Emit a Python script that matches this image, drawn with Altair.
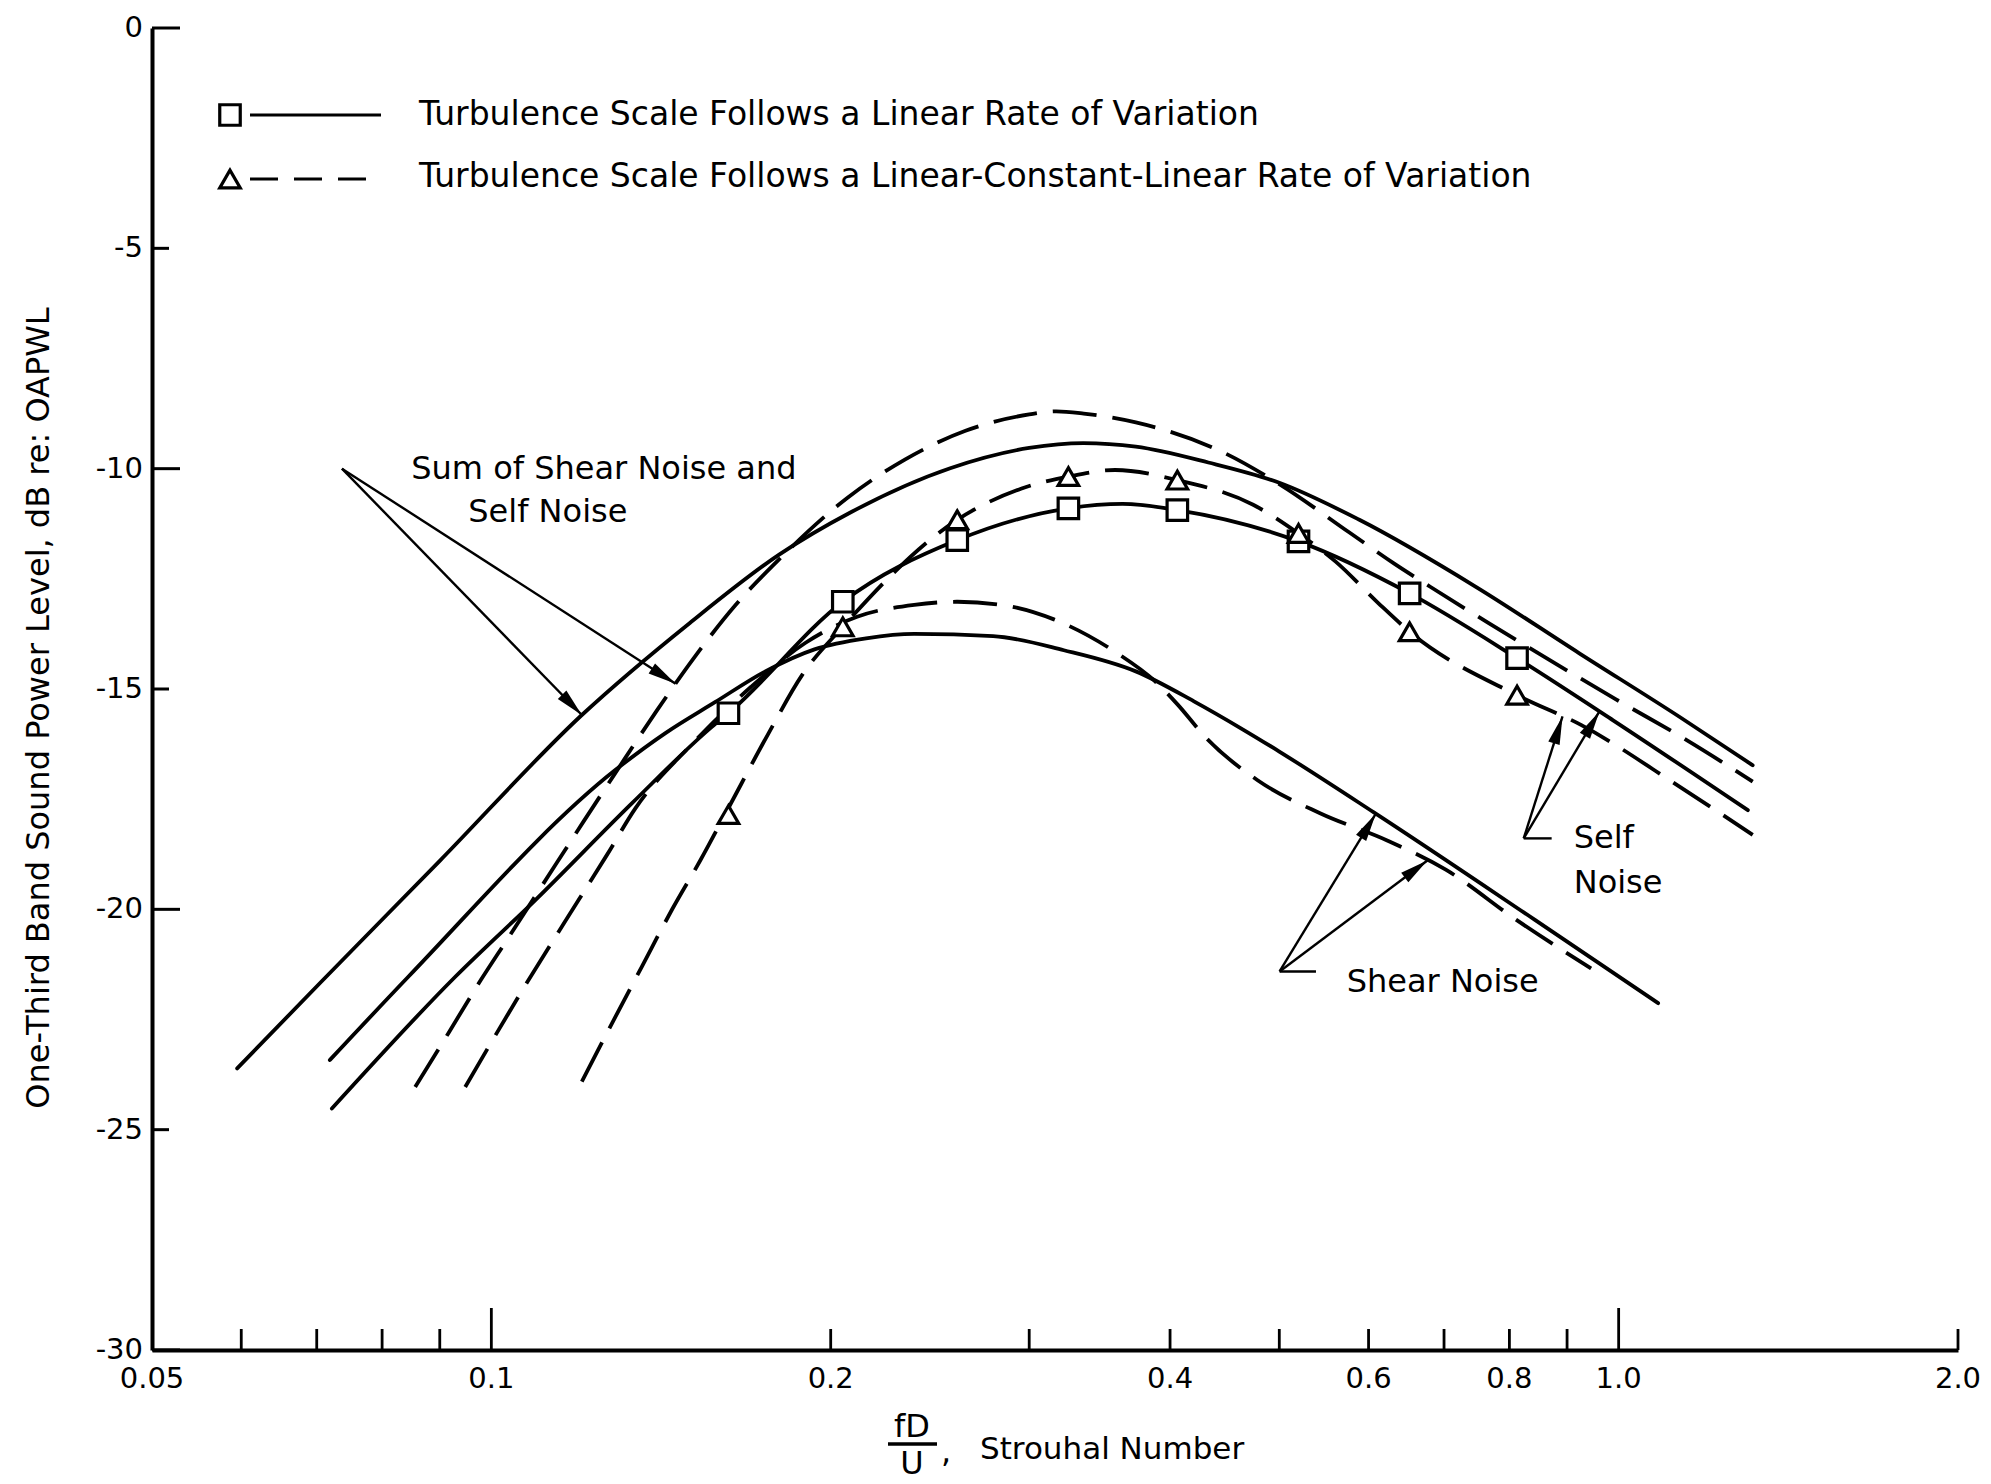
import math

import altair as alt
import pandas as pd

# ---------------------------------------------------------------------------
# Spectra: Strouhal number fD/U versus one-third band sound power level,
# dB re OAPWL.  "LIN" = turbulence scale with a linear rate of variation,
# "LCL" = linear-constant-linear rate of variation.
# ---------------------------------------------------------------------------

# Sum of shear noise and self noise
SUM_LIN_F = [0.0595, 0.0703, 0.0900, 0.1203, 0.150, 0.180, 0.208, 0.2553, 0.300,
             0.335, 0.373, 0.4325, 0.500, 0.5888, 0.747, 0.9228, 1.132, 1.315]
SUM_LIN_DB = [-23.61, -21.70, -18.90, -15.59, -13.50, -11.95, -11.00, -9.99, -9.53,
              -9.42, -9.50, -9.86, -10.32, -11.16, -12.68, -14.19, -15.63, -16.73]

SUM_LCL_F = [0.0856, 0.0916, 0.0979, 0.1032, 0.1140, 0.1207, 0.1288, 0.1403, 0.1511,
             0.1646, 0.1798, 0.207, 0.2325, 0.2634, 0.300, 0.317, 0.3353, 0.373, 0.445,
             0.500, 0.577, 0.6318, 0.6805, 0.7675, 0.9954, 1.151, 1.315]
SUM_LCL_DB = [-24.03, -22.81, -21.60, -20.70, -18.99, -18.01, -16.91, -15.48, -14.31,
              -13.10, -12.07, -10.66, -9.80, -9.14, -8.77, -8.70, -8.75, -8.95, -9.62,
              -10.35, -11.45, -12.15, -12.68, -13.51, -15.24, -16.17, -17.10]

# Self noise
SELF_LIN_F = [0.0722, 0.0929, 0.1094, 0.1333, 0.1569, 0.1623, 0.205, 0.259, 0.325,
              0.363, 0.406, 0.52, 0.6525, 0.8126, 0.9887, 1.302]
SELF_LIN_DB = [-24.52, -21.53, -19.79, -17.59, -15.86, -15.55, -13.02, -11.62, -10.90,
               -10.80, -10.94, -11.65, -12.83, -14.30, -15.71, -17.75]

SELF_LCL_F = [0.1203, 0.1275, 0.136, 0.1446, 0.1533, 0.1623, 0.1762, 0.1887, 0.205,
              0.259, 0.2954, 0.325, 0.3575, 0.406, 0.474, 0.52, 0.561, 0.612, 0.6525,
              0.8126, 0.9268, 1.127, 1.315]
SELF_LCL_DB = [-23.91, -22.66, -21.30, -20.01, -18.88, -17.70, -16.00, -14.68, -13.59,
               -11.16, -10.45, -10.18, -10.03, -10.26, -10.82, -11.47, -12.11, -13.05,
               -13.70, -15.14, -15.82, -17.18, -18.31]

# Shear noise
SHEAR_LIN_F = [0.0719, 0.0844, 0.1288, 0.1427, 0.1579, 0.175, 0.1935, 0.215, 0.2372,
               0.2787, 0.322, 0.373, 0.42, 0.4643, 0.500, 0.6065, 0.8428, 1.084]
SHEAR_LIN_DB = [-23.42, -21.53, -16.84, -16.00, -15.30, -14.60, -14.10, -13.85, -13.75,
                -13.80, -14.12, -14.60, -15.28, -15.92, -16.42, -17.80, -20.24, -22.13]

SHEAR_LCL_F = [0.0948, 0.1068, 0.1195, 0.1266, 0.1342, 0.150, 0.170, 0.190, 0.2111,
               0.2372, 0.2592, 0.285, 0.3155, 0.3597, 0.387, 0.4065, 0.4295, 0.4783,
               0.5434, 0.6225, 0.7025, 0.8115, 0.9454]
SHEAR_LCL_DB = [-24.03, -21.79, -19.79, -18.77, -17.71, -16.30, -14.95, -13.95, -13.36,
                -13.09, -13.02, -13.10, -13.42, -14.20, -14.80, -15.36, -16.08, -17.07,
                -17.82, -18.43, -19.10, -20.24, -21.34]

# Computed points on the self-noise curves
MARK_F = [0.1623, 0.205, 0.259, 0.325, 0.406, 0.52, 0.6525, 0.8126]
SQUARE_DB = [-15.55, -13.02, -11.62, -10.90, -10.94, -11.65, -12.83, -14.30]
TRIANGLE_DB = [-17.85, -13.59, -11.16, -10.18, -10.26, -11.47, -13.70, -15.14]

# Axis ticks and labels
X_LABEL_VALUES = [0.05, 0.1, 0.2, 0.4, 0.6, 0.8, 1.0, 2.0]
X_LABEL_TEXT = ["0.05", "0.1", "0.2", "0.4", "0.6", "0.8", "1.0", "2.0"]
X_MAJOR_TICKS = [0.1, 1.0]
X_MINOR_TICKS = [0.06, 0.07, 0.08, 0.09, 0.2, 0.3, 0.4, 0.5, 0.6, 0.7, 0.8, 0.9, 2.0]
Y_LABEL_VALUES = [0, -5, -10, -15, -20, -25, -30]
Y_LABEL_TEXT = ["0", "-5", "-10", "-15", "-20", "-25", "-30"]
Y_MAJOR_TICKS = [0, -10, -20, -30]
Y_MINOR_TICKS = [-5, -15, -25]

# Callout leader lines: start point -> end point (f, dB); heads mark the curve end
LEADER_F0 = [0.0737, 0.0737, 0.8237, 0.8237, 0.8237, 0.5003, 0.5003, 0.5003]
LEADER_DB0 = [-10.0, -10.0, -18.39, -18.39, -18.39, -21.41, -21.41, -21.41]
LEADER_F1 = [0.1203, 0.1457, 0.8721, 0.8917, 0.9615, 0.5389, 0.609, 0.6766]
LEADER_DB1 = [-15.59, -14.88, -18.39, -15.62, -15.51, -21.41, -17.83, -18.89]
LEADER_HEAD = [True, True, False, True, True, False, True, True]

CALLOUT_TEXT = ["Sum of Shear Noise and", "Self Noise", "Self", "Noise", "Shear Noise"]
CALLOUT_F = [0.0849, 0.0954, 0.9123, 0.9123, 0.5738]
CALLOUT_DB = [-10.0, -10.98, -18.39, -19.40, -21.64]

LEGEND_TEXT = [
    "Turbulence Scale Follows a Linear Rate of Variation",
    "Turbulence Scale Follows a Linear-Constant-Linear Rate of Variation",
]

# ---------------------------------------------------------------------------
PLOT_W, PLOT_H = 1806, 1322
X_DOMAIN = [0.05, 2.0]
Y_DOMAIN = [-30, 0]
PX_PER_DECADE = PLOT_W / math.log10(X_DOMAIN[1] / X_DOMAIN[0])
PX_PER_DB = PLOT_H / (Y_DOMAIN[1] - Y_DOMAIN[0])

FONT = "DejaVu Sans"
INK = "black"
LINE_W = 3.8
DASH = [44, 16]

AXIS_X = alt.Axis(labels=False, ticks=False, grid=False, domain=True,
                  domainColor=INK, domainWidth=4, title="")
AXIS_Y = alt.Axis(labels=False, ticks=False, grid=False, domain=True,
                  domainColor=INK, domainWidth=4, title="")


def xq(field):
    return alt.X(f"{field}:Q", scale=alt.Scale(type="log", domain=X_DOMAIN), axis=AXIS_X)


def yq(field):
    return alt.Y(f"{field}:Q", scale=alt.Scale(domain=Y_DOMAIN, nice=False, zero=False),
                 axis=AXIS_Y)


def series(name, style, fs, dbs):
    return pd.DataFrame({"series": name, "style": style, "f": fs, "db": dbs})


curves = pd.concat([
    series("sum_lin", "solid", SUM_LIN_F, SUM_LIN_DB),
    series("self_lin", "solid", SELF_LIN_F, SELF_LIN_DB),
    series("shear_lin", "solid", SHEAR_LIN_F, SHEAR_LIN_DB),
    series("sum_lcl", "dashed", SUM_LCL_F, SUM_LCL_DB),
    series("self_lcl", "dashed", SELF_LCL_F, SELF_LCL_DB),
    series("shear_lcl", "dashed", SHEAR_LCL_F, SHEAR_LCL_DB),
], ignore_index=True)

solid_lines = alt.Chart(curves[curves["style"] == "solid"]).mark_line(
    interpolate="monotone", color=INK, strokeWidth=LINE_W, strokeCap="round"
).encode(x=xq("f"), y=yq("db"), detail="series:N")

dashed_lines = alt.Chart(curves[curves["style"] == "dashed"]).mark_line(
    interpolate="monotone", color=INK, strokeWidth=LINE_W, strokeDash=DASH
).encode(x=xq("f"), y=yq("db"), detail="series:N")

MARKER = dict(filled=True, fill="white", stroke=INK, strokeWidth=3.2, opacity=1)
MARKER_SIZE = 420

squares = alt.Chart(pd.DataFrame({"f": MARK_F, "db": SQUARE_DB})).mark_point(
    shape="square", size=MARKER_SIZE, **MARKER
).encode(x=xq("f"), y=yq("db"))

triangles = alt.Chart(pd.DataFrame({"f": MARK_F, "db": TRIANGLE_DB})).mark_point(
    shape="triangle-up", size=MARKER_SIZE, **MARKER
).encode(x=xq("f"), y=yq("db"))

# Leader lines and their arrowheads
leaders = pd.DataFrame({"f0": LEADER_F0, "db0": LEADER_DB0, "f1": LEADER_F1,
                        "db1": LEADER_DB1, "head": LEADER_HEAD})


def head_angle(row):
    dx = PX_PER_DECADE * math.log10(row.f1 / row.f0)
    dy = -PX_PER_DB * (row.db1 - row.db0)
    return math.degrees(math.atan2(dx, -dy)) % 360


leaders["ang"] = leaders.apply(head_angle, axis=1)

leader_lines = alt.Chart(leaders).mark_rule(color=INK, strokeWidth=2.4).encode(
    x=xq("f0"), y=yq("db0"), x2="f1:Q", y2="db1:Q"
)

ARROW_PATH = "M0,0 L0.42,2 L-0.42,2 Z"
heads = alt.Chart(leaders[leaders["head"]]).mark_point(
    shape=ARROW_PATH, filled=True, color=INK, size=800, opacity=1
).encode(x=xq("f1"), y=yq("db1"), angle=alt.Angle("ang:Q", scale=None))

callouts = alt.Chart(pd.DataFrame({"t": CALLOUT_TEXT, "f": CALLOUT_F, "db": CALLOUT_DB})).mark_text(
    font=FONT, fontSize=32, align="left", baseline="middle", color=INK
).encode(x=xq("f"), y=yq("db"), text="t:N")

# Inward tick marks
x_major = alt.Chart(pd.DataFrame({"v": X_MAJOR_TICKS})).mark_rule(color=INK, strokeWidth=2.8).encode(
    x=xq("v"), y=alt.value(PLOT_H), y2=alt.value(PLOT_H - 42))
x_minor = alt.Chart(pd.DataFrame({"v": X_MINOR_TICKS})).mark_rule(color=INK, strokeWidth=2.8).encode(
    x=xq("v"), y=alt.value(PLOT_H), y2=alt.value(PLOT_H - 21))
y_major = alt.Chart(pd.DataFrame({"v": Y_MAJOR_TICKS})).mark_rule(color=INK, strokeWidth=3).encode(
    y=yq("v"), x=alt.value(0), x2=alt.value(28))
y_minor = alt.Chart(pd.DataFrame({"v": Y_MINOR_TICKS})).mark_rule(color=INK, strokeWidth=3).encode(
    y=yq("v"), x=alt.value(0), x2=alt.value(17))

x_labels = alt.Chart(pd.DataFrame({"v": X_LABEL_VALUES, "t": X_LABEL_TEXT})).mark_text(
    font=FONT, fontSize=29, align="center", baseline="middle", color=INK
).encode(x=xq("v"), y=alt.value(PLOT_H + 29), text="t:N")

y_labels = alt.Chart(pd.DataFrame({"v": Y_LABEL_VALUES, "t": Y_LABEL_TEXT})).mark_text(
    font=FONT, fontSize=29, align="right", baseline="middle", color=INK
).encode(y=yq("v"), x=alt.value(-9), text="t:N")

ONE = alt.Data(values=[{"k": 1}])


def text_at(label, px, py, size=31, align="center", angle=0):
    return alt.Chart(ONE).mark_text(
        text=label, font=FONT, fontSize=size, align=align, baseline="middle",
        color=INK, angle=angle
    ).encode(x=alt.value(px), y=alt.value(py))


def rule_at(x0, x1, py, width=3, dash=None):
    kw = dict(color=INK, strokeWidth=width)
    if dash:
        kw["strokeDash"] = dash
    return alt.Chart(ONE).mark_rule(**kw).encode(x=alt.value(x0), x2=alt.value(x1), y=alt.value(py))


def symbol_at(shape, px, py):
    return alt.Chart(ONE).mark_point(shape=shape, size=MARKER_SIZE, **MARKER).encode(
        x=alt.value(px), y=alt.value(py))


# Axis titles: rotated y title, and the fD/U fraction on x
y_title = text_at("One-Third Band Sound Power Level, dB re: OAPWL", -113, 680, size=32, angle=270)
x_title = [
    text_at("fD", 760, 1399, size=32),
    rule_at(736, 785, 1416, width=3.5),
    text_at("U", 760, 1436, size=32),
    text_at(",", 794, 1424, size=32),
    text_at("Strouhal Number", 828, 1422, size=31, align="left"),
]

# Key
legend = [
    rule_at(98, 229, 87, width=3),
    symbol_at("square", 78, 87),
    text_at(LEGEND_TEXT[0], 267, 87, size=33, align="left"),
    rule_at(98, 229, 151, width=3, dash=[28, 16]),
    symbol_at("triangle-up", 78, 151),
    text_at(LEGEND_TEXT[1], 267, 149, size=33, align="left"),
]

chart = alt.layer(
    solid_lines, dashed_lines, leader_lines, heads, squares, triangles, callouts,
    x_major, x_minor, y_major, y_minor, x_labels, y_labels, y_title, *x_title, *legend
).properties(
    width=PLOT_W, height=PLOT_H,
    padding={"left": 152, "top": 28, "right": 33, "bottom": 134},
    autosize=alt.AutoSizeParams(type="none"),
    background="white",
).configure_view(strokeWidth=0)

chart.save("out.html", embed_options={"renderer": "svg", "actions": False})
